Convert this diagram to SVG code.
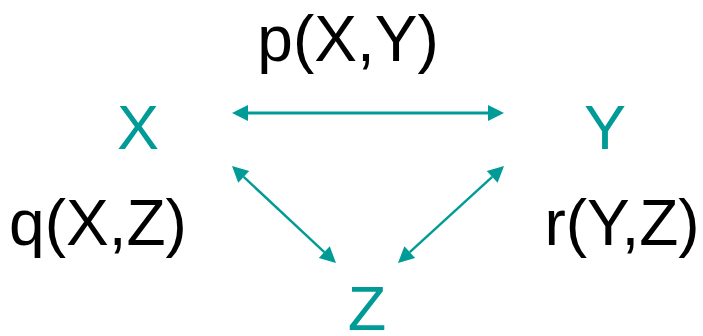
<svg xmlns="http://www.w3.org/2000/svg" width="703" height="336" viewBox="0 0 703 336">
<style>
.lbl{font-family:"Liberation Sans",Arial,sans-serif;font-size:64px;fill:#000;text-anchor:middle}
.node{font-family:"Liberation Sans",Arial,sans-serif;font-size:63px;fill:#009B96;text-anchor:middle}
.edge{stroke:#009B96;fill:none}
</style>
<defs>
<marker id="ah" markerUnits="userSpaceOnUse" markerWidth="17" markerHeight="17" refX="0" refY="8" orient="auto-start-reverse" overflow="visible">
<path d="M0,0 L16,8 L0,16 Z" fill="#009B96"/>
</marker>
</defs>
<g id="connectors">
<line class="edge" x1="248" y1="113" x2="488" y2="113" stroke-width="3" marker-start="url(#ah)" marker-end="url(#ah)"/>
<line class="edge" x1="243.7" y1="176.9" x2="324.3" y2="252.1" stroke-width="2.4" marker-start="url(#ah)" marker-end="url(#ah)"/>
<line class="edge" x1="492.2" y1="176.8" x2="409.8" y2="252.2" stroke-width="2.4" marker-start="url(#ah)" marker-end="url(#ah)"/>
</g>
<g id="label-p"><text class="lbl" x="348" y="61">p(X,Y)</text></g>
<g id="label-q"><text class="lbl" x="98" y="245">q(X,Z)</text></g>
<g id="label-r"><text class="lbl" x="622" y="245">r(Y,Z)</text></g>
<g id="node-X"><text class="node" x="138" y="149">X</text></g>
<g id="node-Y"><text class="node" x="605" y="149">Y</text></g>
<g id="node-Z"><text class="node" x="367" y="330">Z</text></g>
</svg>
